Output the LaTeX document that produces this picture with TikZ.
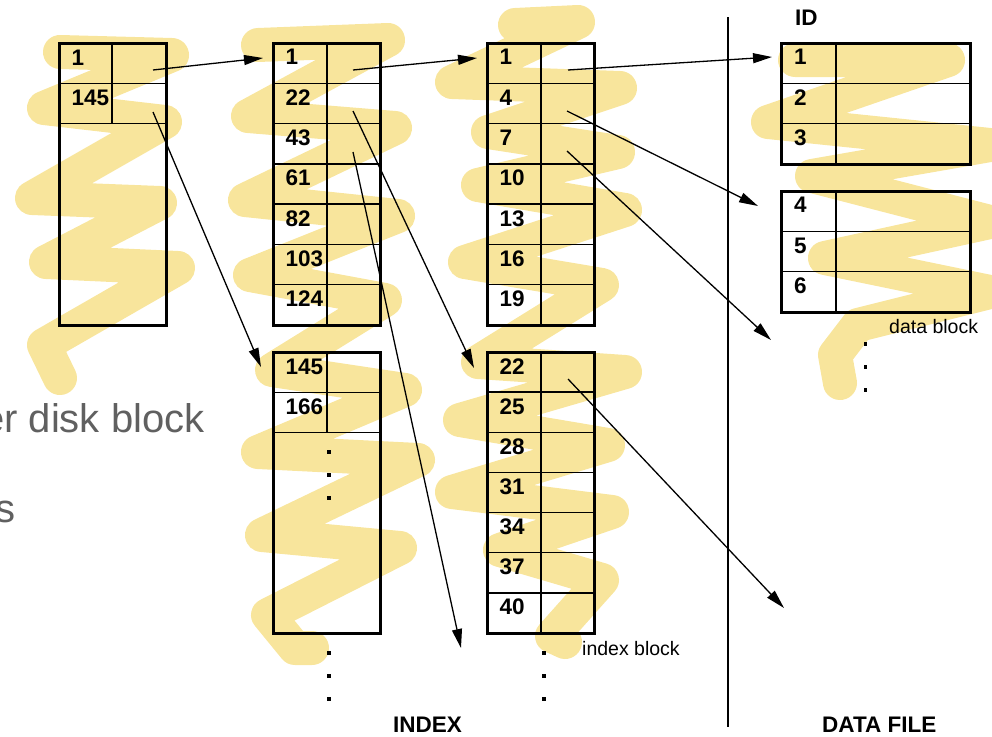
\documentclass[tikz,border=0pt]{standalone}
\usepackage{fontspec}
\setmainfont{Liberation Sans}
\usetikzlibrary{arrows.meta}
\definecolor{marker}{RGB}{248,229,156}
\definecolor{slidegray}{RGB}{96,96,96}
\tikzset{
  blk/.style={line width=3pt},
  cell/.style={line width=1.4pt},
  key/.style={anchor=base west,inner sep=0pt,font=\fontsize{22.5}{27}\selectfont\bfseries},
  note/.style={anchor=base west,inner sep=0pt,font=\fontsize{19.5}{23}\selectfont},
  slide/.style={inner sep=0pt,text=slidegray,font=\fontsize{40}{48}\selectfont},
  ptr/.style={line width=1.3pt,-{Triangle[length=19pt,width=10pt]}},
  hl/.style={marker,line width=34pt,line cap=round,line join=round}
}

\begin{document}
\begin{tikzpicture}[x=1pt,y=-1pt]
    \useasboundingbox (0,0) rectangle (992,736);

    % highlighter scribbles
    \draw[hl] (60,52) -- (172,55) -- (44,108) -- (165,122) -- (32,198) -- (160,203)
      -- (46,262) -- (178,268) -- (44,345) -- (60,378);
    \draw[hl] (258,45) -- (388,40) -- (248,116) -- (395,128) -- (245,200) -- (398,216)
      -- (250,275) -- (385,300) -- (272,370) -- (405,390) -- (258,452) -- (418,460)
      -- (262,535) -- (400,548) -- (268,615) -- (295,648) -- (312,648);
    \draw[hl] (515,25) -- (578,22) -- (452,82) -- (620,88) -- (488,132) -- (618,152)
      -- (478,185) -- (625,210) -- (465,262) -- (602,285) -- (478,362) -- (625,372)
      -- (460,420) -- (608,445) -- (452,492) -- (612,512) -- (500,550) -- (602,580)
      -- (552,636) -- (565,642);
    \draw[hl] (795,60) -- (948,60) -- (768,122) -- (990,145) -- (812,176) -- (990,222)
      -- (825,258) -- (990,292) -- (858,325) -- (835,355) -- (840,383);

    % leftover slide text
    \node[slide,anchor=base west] (slide1) at (-18,432) {er disk block};
    \node[slide,anchor=base east] (slide2) at (16,522) {s};

    % root block
    \draw[cell] (59,83.3) -- (166,83.3) (59,123.6) -- (166,123.6) (112,43) -- (112,123.6);
    \draw[blk] (59,43) rectangle (166,325);
    \node[key] (a1) at (71.5,65) {1};
    \node[key] (a2) at (71.5,105.3) {145};
    \coordinate (a1p) at (153,70);
    \coordinate (a2p) at (153,112);

    % second level, first block
    \foreach \i in {1,...,6}
      \draw[cell] (273,43+40.29*\i) -- (380,43+40.29*\i);
    \draw[cell] (327,43) -- (327,325);
    \draw[blk] (273,43) rectangle (380,325);
    \foreach \k [count=\i] in {1,22,43,61,82,103,124}
      \node[key] (b\i) at (285.5,43+40.29*\i-18.3) {\k};
    \coordinate (b1p) at (353,70);
    \coordinate (b2p) at (353,111);
    \coordinate (b3p) at (353,152);

    % second level, second block
    \draw[cell] (273,392.2) -- (380,392.2) (273,432.4) -- (380,432.4) (327,352) -- (327,432.4);
    \draw[blk] (273,352) rectangle (380,633);
    \node[key] (d1) at (285.5,374) {145};
    \node[key] (d2) at (285.5,414.2) {166};
    \foreach \y in {452,475,498,653,676,699}
      \fill (327.3,\y-1.7) rectangle (330.7,\y+1.7);

    % leaf index blocks
    \foreach \i in {1,...,6}
      \draw[cell] (487,43+40.29*\i) -- (594,43+40.29*\i);
    \draw[cell] (541,43) -- (541,325);
    \draw[blk] (487,43) rectangle (594,325);
    \foreach \k [count=\i] in {1,4,7,10,13,16,19}
      \node[key] (c\i) at (499.5,43+40.29*\i-18.3) {\k};
    \coordinate (c1p) at (568,70);
    \coordinate (c2p) at (567,111);
    \coordinate (c3p) at (567,151);

    \foreach \i in {1,...,6}
      \draw[cell] (487,352+40.14*\i) -- (594,352+40.14*\i);
    \draw[cell] (541,352) -- (541,633);
    \draw[blk] (487,352) rectangle (594,633);
    \foreach \k [count=\i] in {22,25,28,31,34,37,40}
      \node[key] (e\i) at (499.5,352+40.14*\i-18.1) {\k};
    \coordinate (e1p) at (568,379);
    \foreach \y in {653,676,699}
      \fill (542.3,\y-1.7) rectangle (545.7,\y+1.7);
    \node[note] (idxnote) at (582,655) {index block};

    % index / data file split
    \coordinate (splittop) at (728,17);
    \coordinate (splitbot) at (728,727);
    \draw[line width=1.2pt] (splittop) -- (splitbot);

    % data blocks
    \node[key] (idhead) at (795,25) {ID};
    \draw[cell] (781,83.3) -- (970,83.3) (781,123.6) -- (970,123.6) (836,43) -- (836,164);
    \draw[blk] (781,43) rectangle (970,164);
    \foreach \k [count=\i] in {1,2,3}
      \node[key] (f\i) at (794,43+40.29*\i-18.3) {\k};
    \draw[cell] (781,231.3) -- (970,231.3) (781,271.7) -- (970,271.7) (836,191) -- (836,312);
    \draw[blk] (781,191) rectangle (970,312);
    \foreach \k [count=\i] in {4,5,6}
      \node[key] (g\i) at (794,191+40.29*\i-18.3) {\k};
    \node[note] (datanote) at (889,333) {data block};
    \foreach \y in {344,367,390}
      \fill (864,\y-1.7) rectangle (867.4,\y+1.7);

    \node[key] (indexlbl) at (393,732) {INDEX};
    \node[key] (datalbl) at (822,732) {DATA FILE};

    % pointers
    \coordinate (ta1) at (263,58);
    \coordinate (ta2) at (261,367);
    \coordinate (tb1) at (477,58);
    \coordinate (tb2) at (474,368);
    \coordinate (tb3) at (461,648);
    \coordinate (tc1) at (772,57);
    \coordinate (tc2) at (758,206);
    \coordinate (tc3) at (771,340);
    \coordinate (te1) at (784,608);
    \draw[ptr] (a1p) -- (ta1);
    \draw[ptr] (a2p) -- (ta2);
    \draw[ptr] (b1p) -- (tb1);
    \draw[ptr] (b2p) -- (tb2);
    \draw[ptr] (b3p) -- (tb3);
    \draw[ptr] (c1p) -- (tc1);
    \draw[ptr] (c2p) -- (tc2);
    \draw[ptr] (c3p) -- (tc3);
    \draw[ptr] (e1p) -- (te1);
\end{tikzpicture}
\end{document}
